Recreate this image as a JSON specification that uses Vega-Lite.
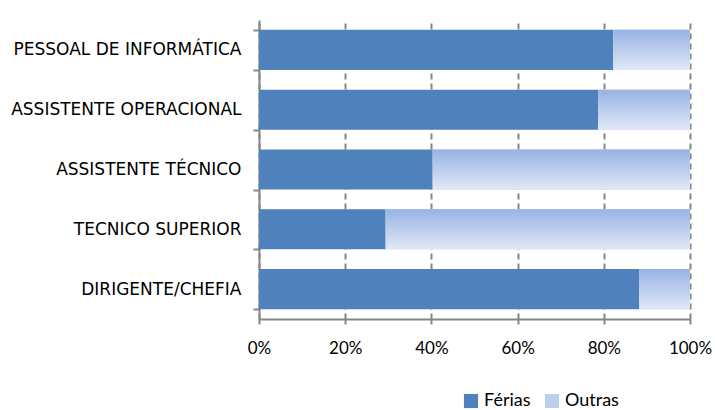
{
  "$schema": "https://vega.github.io/schema/vega-lite/v6.json",
  "width": 431,
  "height": 299,
  "autosize": {"type": "none"},
  "padding": {"left": 259, "top": 20, "right": 25, "bottom": 91},
  "background": "white",
  "config": {"view": {"stroke": null}},
  "data": {
    "values": [
      {"cat": "PESSOAL DE INFORMÁTICA", "Férias": 82.2, "Outras": 17.8},
      {"cat": "ASSISTENTE OPERACIONAL", "Férias": 78.7, "Outras": 21.3},
      {"cat": "ASSISTENTE TÉCNICO", "Férias": 40.3, "Outras": 59.7},
      {"cat": "TECNICO SUPERIOR", "Férias": 29.4, "Outras": 70.6},
      {"cat": "DIRIGENTE/CHEFIA", "Férias": 88.2, "Outras": 11.8}
    ]
  },
  "encoding": {
    "y": {
      "field": "cat",
      "type": "nominal",
      "sort": null,
      "title": null,
      "scale": {"paddingInner": 0.33, "paddingOuter": 0.165},
      "axis": {
        "domainColor": "#868686",
        "domainWidth": 2,
        "tickColor": "#868686",
        "tickWidth": 2,
        "tickSize": 6,
        "tickBand": "extent",
        "labelFont": "DejaVu Sans",
        "labelFontSize": 17,
        "labelColor": "#000000",
        "labelPadding": 12,
        "labelLimit": 300
      }
    }
  },
  "layer": [
    {
      "transform": [{"fold": ["Férias", "Outras"], "as": ["serie", "valor"]}],
      "mark": {"type": "bar"},
      "encoding": {
        "x": {
          "field": "valor",
          "type": "quantitative",
          "stack": "zero",
          "title": null,
          "scale": {"domain": [0, 100], "nice": false},
          "axis": {
            "values": [0, 20, 40, 60, 80, 100],
            "labelExpr": "datum.value + '%'",
            "grid": true,
            "gridColor": "#868686",
            "gridWidth": 2,
            "gridDash": [6, 4],
            "domainColor": "#868686",
            "domainWidth": 2,
            "tickColor": "#868686",
            "tickWidth": 2,
            "tickSize": 5,
            "labelFont": "Lato",
            "labelFontSize": 17,
            "labelColor": "#000000",
            "labelPadding": 16,
            "labelFlush": false
          }
        },
        "color": {
          "field": "serie",
          "type": "nominal",
          "scale": {"domain": ["Férias", "Outras"], "range": ["#4f81bd", "#bccdee"]},
          "legend": {
            "title": null,
            "orient": "none",
            "legendX": 203,
            "legendY": 372,
            "direction": "horizontal",
            "symbolType": "square",
            "symbolSize": 200,
            "symbolStrokeWidth": 0,
            "labelFont": "Lato",
            "labelFontSize": 18,
            "labelColor": "#000000",
            "columnPadding": 12,
            "labelOffset": 4
          }
        },
        "order": {"field": "serie", "sort": "ascending"}
      }
    },
    {
      "mark": {
        "type": "bar",
        "color": {
          "gradient": "linear",
          "x1": 0, "y1": 0, "x2": 0, "y2": 1,
          "stops": [
            {"offset": 0, "color": "#97b3e3"},
            {"offset": 1, "color": "#e0e8f6"}
          ]
        }
      },
      "encoding": {
        "x": {"field": "Férias", "type": "quantitative"},
        "x2": {"datum": 100}
      }
    }
  ]
}
